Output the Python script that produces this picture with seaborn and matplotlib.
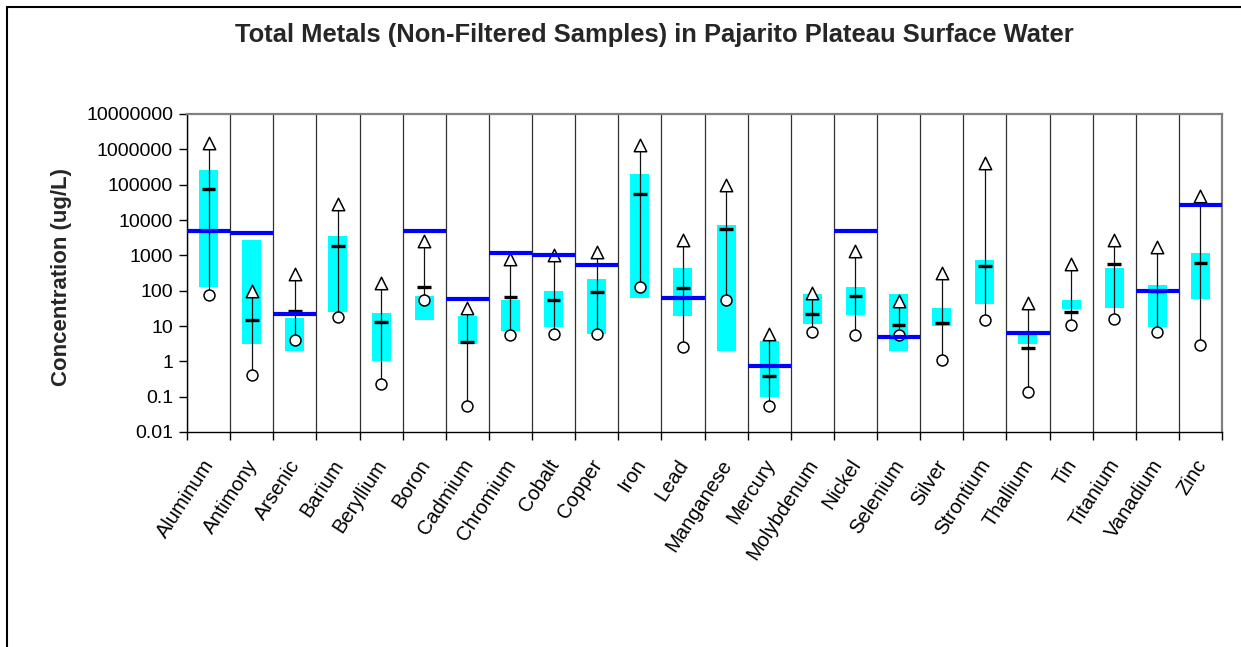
import numpy as np
import pandas as pd
import matplotlib
matplotlib.use("Agg")
import matplotlib.pyplot as plt
import matplotlib.transforms as mtransforms
import seaborn as sns
from matplotlib.ticker import FixedLocator, FuncFormatter, NullLocator, NullFormatter
from matplotlib.lines import Line2D

metals = ["Aluminum", "Antimony", "Arsenic", "Barium", "Beryllium", "Boron",
          "Cadmium", "Chromium", "Cobalt", "Copper", "Iron", "Lead",
          "Manganese", "Mercury", "Molybdenum", "Nickel", "Selenium", "Silver",
          "Strontium", "Thallium", "Tin", "Titanium", "Vanadium", "Zinc"]
maximum = [1.5e6, 100, 300, 29000, 165, 2600, 33, 800, 1000, 1250, 1.32e6, 2800,
           97000, 6.1, 87, 1340, 51, 316, 4.0e5, 46, 560, 2800, 1750, 49000]
upper = [2.6e5, 2700, 16.5, 3500, 23, 70, 19, 54, 95, 220, 2.0e5, 425,
         7000, 3.7, 80, 123, 83, 32, 730, 5.5, 56, 435, 144, 1200]
lower = [125, 3.1, 2.0, 25, 1.0, 15, 3.1, 7, 9.3, 6, 63, 19.4,
         2.0, 0.1, 11.5, 20, 2.0, 10, 42, 3.1, 30, 33, 9.5, 57]
median = [76000, 14.5, 27, 1850, 13.4, 123, 3.6, 65, 54, 89, 56000, 120,
          5500, 0.39, 22, 71, 10.7, 12, 500, 2.4, 24.5, 560, 100, 610]
minimum = [75, 0.42, 4.0, 18, 0.23, 54, 0.053, 5.4, 5.8, 5.8, 123, 2.6,
           54, 0.053, 6.6, 5.4, 5.4, 1.07, 14.6, 0.14, 11, 16, 6.6, 2.9]
standard = [5000, 4300, 22, np.nan, np.nan, 5000, 57, 1180, 1000, 520, np.nan, 62,
            np.nan, 0.74, np.nan, 5000, 5, np.nan, np.nan, 6.3, np.nan, np.nan, 100, 26500]
y_ticks = [0.01, 0.1, 1, 10, 100, 1000, 10000, 100000, 1000000, 10000000]

sns.set_theme(style="white")
plt.rcParams["font.family"] = ["Liberation Sans", "DejaVu Sans"]

W, H = 1241, 647
fig = plt.figure(figsize=(W / 100, H / 100), dpi=100)
ax = fig.add_axes([187 / W, 1 - 432 / H, (1222 - 187) / W, (432 - 114) / H])

df = pd.DataFrame({
    "metal": metals,
    "pos": np.arange(len(metals), dtype=float),
    "maximum": maximum, "upper": upper, "lower": lower,
    "median": median, "minimum": minimum, "standard": standard,
})
x = df["pos"].to_numpy()

# range bars
ax.bar(x, df["upper"] - df["lower"], bottom=df["lower"], width=0.44,
       color="#00FFFF", linewidth=0, zorder=2)
# min-to-max whiskers
ax.vlines(x, df["minimum"], df["maximum"], color="#111111", lw=0.9, zorder=3)
# medians
ax.hlines(df["median"], x - 0.16, x + 0.16, color="black", lw=2.4, zorder=4)
# min / max markers
sns.scatterplot(data=df, x="pos", y="minimum", marker="o", s=62, color="white",
                edgecolor="black", linewidth=1.1, zorder=5, ax=ax, legend=False)
sns.scatterplot(data=df, x="pos", y="maximum", marker="^", s=80, color="white",
                edgecolor="black", linewidth=1.1, zorder=5, ax=ax, legend=False)
# screening standards
std = df.dropna(subset=["standard"])
ax.hlines(std["standard"], std["pos"] - 0.5, std["pos"] + 0.5,
          color="#0000FF", lw=3.0, zorder=6)

ax.set_yscale("log")
ax.set_ylim(0.01, 1e7)
ax.set_xlim(-0.5, len(metals) - 0.5)
ax.yaxis.set_major_locator(FixedLocator(y_ticks))
ax.yaxis.set_minor_locator(NullLocator())
ax.yaxis.set_major_formatter(FuncFormatter(lambda v, p: f"{v:.0f}" if v >= 1 else f"{v:g}"))

ax.xaxis.set_major_locator(FixedLocator(x))
ax.xaxis.set_minor_locator(FixedLocator(np.arange(len(metals) + 1) - 0.5))
ax.xaxis.set_minor_formatter(NullFormatter())
ax.set_xticklabels(metals, rotation=57, ha="right", va="top", rotation_mode="anchor")
ax.tick_params(axis="x", which="major", length=0, pad=17.3, labelsize=14.5, colors="black")
ax.tick_params(axis="x", which="minor", length=6, width=1, direction="out",
               bottom=True, color="black")
ax.tick_params(axis="y", which="major", length=6, width=1, direction="out",
               left=True, labelsize=14, pad=4, colors="black")
ax.grid(False)
ax.grid(True, which="minor", axis="x", color="#303030", lw=0.9)
ax.set_xlabel("")
ax.set_ylabel("")

# nudge the slanted category labels so their ends sit under the category centres
shift = mtransforms.ScaledTranslation(-6.4 / 100, 0, fig.dpi_scale_trans)
for lab in ax.get_xticklabels():
    lab.set_transform(lab.get_transform() + shift)

for side in ("left", "bottom"):
    ax.spines[side].set_color("black")
    ax.spines[side].set_linewidth(1.0)
for side in ("top", "right"):
    ax.spines[side].set_color("#808080")
    ax.spines[side].set_linewidth(1.6)

fig.text(654 / W, 1 - 35 / H, "Total Metals (Non-Filtered Samples) in Pajarito Plateau Surface Water",
         ha="center", va="center", fontsize=18.4, fontweight="bold")
fig.text(61 / W, 1 - 277 / H, "Concentration (ug/L)", rotation=90,
         ha="center", va="center", fontsize=16, fontweight="bold")

# chart-area outline
fig.add_artist(Line2D([7 / W, 7 / W], [0, 1 - 7 / H], transform=fig.transFigure,
                      color="black", lw=1.5))
fig.add_artist(Line2D([7 / W, 1], [1 - 7 / H, 1 - 7 / H], transform=fig.transFigure,
                      color="black", lw=1.5))

fig.savefig("out.png", dpi=100, facecolor="white")
